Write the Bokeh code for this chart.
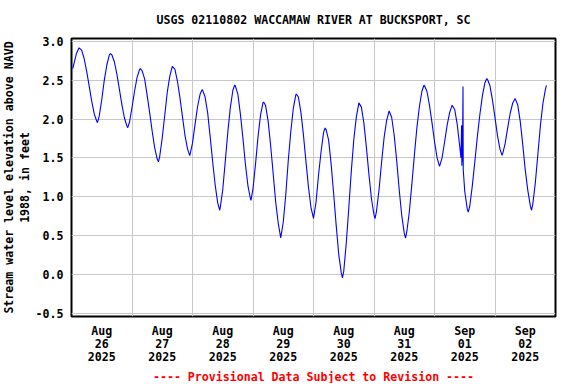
import pandas as pd
from bokeh.plotting import figure
from bokeh.models import (FixedTicker, DatetimeTickFormatter, PrintfTickFormatter,
                          Title, Range1d, ColumnDataSource)
from bokeh.embed import file_html
from bokeh.resources import INLINE

# ---------------- data ----------------
title_text = "USGS 02110802 WACCAMAW RIVER AT BUCKSPORT, SC"
ylabel_line1 = "Stream water level elevation above NAVD"
ylabel_line2 = "1988, in feet"
footer_text = "---- Provisional Data Subject to Revision ----"

tick_days = ["2025-08-26", "2025-08-27", "2025-08-28", "2025-08-29",
             "2025-08-30", "2025-08-31", "2025-09-01", "2025-09-02"]
grid_days = ["2025-08-27", "2025-08-28", "2025-08-29", "2025-08-30",
             "2025-08-31", "2025-09-01", "2025-09-02"]
x_start = "2025-08-26 00:00"
x_end = "2025-09-03 00:00"
y_ticks = [-0.5, 0.0, 0.5, 1.0, 1.5, 2.0, 2.5, 3.0]

# hourly gage height readings (ft), starting 2025-08-26 01:00
hourly_start = "2025-08-26 01:00"
level_hourly = [
    2.72, 2.85, 2.92, 2.89, 2.785, 2.62, 2.43, 2.235, 2.07, 1.975,       # 01-10
    2.04, 2.25, 2.50, 2.695, 2.83, 2.83, 2.74, 2.58, 2.385, 2.185,       # 11-20
    2.015, 1.91, 1.96, 2.15, 2.36, 2.535, 2.64, 2.625, 2.52, 2.31,       # 21-30
    2.085, 1.845, 1.63, 1.485, 1.52, 1.76, 2.05, 2.35, 2.555, 2.68,      # 31-40
    2.645, 2.495, 2.28, 2.035, 1.795, 1.62, 1.54, 1.69, 1.93, 2.16,      # 41-50
    2.32, 2.375, 2.285, 2.085, 1.775, 1.45, 1.15, 0.92, 0.86, 1.09,      # 51-60
    1.455, 1.83, 2.145, 2.37, 2.43, 2.32, 2.065, 1.755, 1.415, 1.14,     # 61-70
    0.97, 1.105, 1.42, 1.775, 2.055, 2.215, 2.175, 1.975, 1.66, 1.30,    # 71-80
    0.93, 0.66, 0.47, 0.67, 1.025, 1.47, 1.84, 2.14, 2.315, 2.285,       # 81-90
    2.09, 1.80, 1.455, 1.125, 0.86, 0.72, 0.93, 1.28, 1.58, 1.83,        # 91-100
    1.865, 1.73, 1.42, 1.035, 0.63, 0.26, 0.02, 0.04, 0.40, 0.855,       # 101-110
    1.33, 1.74, 2.03, 2.21, 2.155, 1.945, 1.63, 1.285, 0.97, 0.765,      # 111-120
    0.815, 1.09, 1.44, 1.76, 1.98, 2.105, 2.025, 1.795, 1.465, 1.09,     # 121-130
    0.76, 0.53, 0.545, 0.80, 1.155, 1.53, 1.885, 2.16, 2.36, 2.435,      # 131-140
    2.36, 2.18, 1.955, 1.715, 1.505, 1.39, 1.50, 1.705, 1.92, 2.085,     # 141-150
    2.18, 2.125, 1.935, 1.65, 1.85, 1.07, 0.84, 0.88, 1.14, 1.45,        # 151-160
    1.775, 2.06, 2.30, 2.47, 2.515, 2.43, 2.245, 2.02, 1.785, 1.61,      # 161-170
    1.55, 1.68, 1.88, 2.07, 2.205, 2.265, 2.185, 1.975, 1.675, 1.345,    # 171-180
    1.085, 0.885, 0.905, 1.18, 1.545, 1.915, 2.20, 2.385,                # 181-188
]

# readings between the hours: turning points, the spike and the end points
extra_times = [
    "2025-08-26 00:30", "2025-08-26 10:18", "2025-08-26 15:24", "2025-08-26 22:18",
    "2025-08-27 03:18", "2025-08-27 10:30", "2025-08-27 22:54", "2025-08-28 03:48",
    "2025-08-28 10:48", "2025-08-28 16:42", "2025-08-28 23:12", "2025-08-29 04:12",
    "2025-08-29 17:12", "2025-08-30 04:36", "2025-08-30 11:30", "2025-08-31 00:24",
    "2025-08-31 12:30", "2025-08-31 19:48",
    "2025-09-01 10:30", "2025-09-01 10:45", "2025-09-01 10:51", "2025-09-01 11:06",
    "2025-09-01 11:18", "2025-09-01 11:24",
    "2025-09-01 13:24", "2025-09-01 20:42", "2025-09-02 02:48", "2025-09-02 14:30",
    "2025-09-02 20:24",
]
extra_values = [
    2.65, 1.955, 2.845, 1.89,
    2.65, 1.45, 1.53, 2.38,
    0.825, 2.437, 0.953, 2.22,
    2.325, 1.886, -0.048, 0.717,
    0.467, 2.437,
    1.50, 1.92, 1.40, 1.45,
    2.42, 1.35,
    0.80, 2.52, 1.535, 0.825,
    2.437,
]

# ---------------- build ----------------
hourly_times = pd.date_range(hourly_start, periods=len(level_hourly), freq="h")
df = pd.concat([
    pd.DataFrame({"t": hourly_times, "v": level_hourly}),
    pd.DataFrame({"t": pd.to_datetime(extra_times), "v": extra_values}),
]).sort_values("t").reset_index(drop=True)
source = ColumnDataSource(df)

FONT = "DejaVu Sans Mono"
FS = "11.6px"

def ms(s):
    return pd.Timestamp(s).value // 10**6

p = figure(title=None, frame_width=484, frame_height=278, x_axis_type="datetime",
           output_backend="svg", toolbar_location=None,
           x_range=Range1d(ms(x_start), ms(x_end)),
           y_range=Range1d(-0.545, 3.04),
           min_border_left=63, min_border_right=13,
           min_border_top=0, min_border_bottom=0)

p.background_fill_color = "white"
p.border_fill_color = "white"
p.outline_line_color = "black"
p.outline_line_width = 2

p.add_layout(Title(text=title_text, align="center", text_font=FONT, text_font_size=FS,
                   text_font_style="bold", text_color="black", standoff=22.3), "above")

p.line("t", "v", source=source, line_color="#0000ff", line_width=1.1)

# axes
xa = p.xaxis[0]
xa.ticker = FixedTicker(ticks=[ms(d + " 12:00") for d in tick_days])
fmt = "%b\n%d\n%Y"
xa.formatter = DatetimeTickFormatter(microseconds=fmt, milliseconds=fmt, seconds=fmt,
                                     minsec=fmt, minutes=fmt, hourmin=fmt, hours=fmt,
                                     days=fmt, months=fmt, years=fmt)
ya = p.yaxis[0]
ya.ticker = FixedTicker(ticks=y_ticks)
ya.formatter = PrintfTickFormatter(format="%.1f")

for ax in (xa, ya):
    ax.axis_line_color = None
    ax.major_tick_line_color = None
    ax.minor_tick_line_color = None
    ax.major_tick_out = 0
    ax.major_tick_in = 0
    ax.major_label_text_font = FONT
    ax.major_label_text_font_size = FS
    ax.major_label_text_font_style = "bold"
    ax.major_label_text_color = "black"
xa.major_label_standoff = 7
xa.major_label_text_line_height = 0.96
ya.major_label_standoff = 8

# grid
p.xgrid.ticker = FixedTicker(ticks=[ms(d) for d in grid_days])
p.ygrid.ticker = FixedTicker(ticks=y_ticks)
for g in (p.xgrid, p.ygrid):
    g.grid_line_color = "#c8c8c8"
    g.grid_line_width = 1

# y label as two rotated lines (inner line first)
p.add_layout(Title(text=ylabel_line2, align="center", text_font=FONT, text_font_size=FS,
                   text_font_style="bold", text_color="black", standoff=2), "left")
p.add_layout(Title(text=ylabel_line1, align="center", text_font=FONT, text_font_size=FS,
                   text_font_style="bold", text_color="black", standoff=-2), "left")

p.add_layout(Title(text=footer_text, align="center", text_font=FONT, text_font_size=FS,
                   text_font_style="bold", text_color="#ff0000", standoff=0), "below")

open("out.html", "w").write(file_html(p, INLINE))
